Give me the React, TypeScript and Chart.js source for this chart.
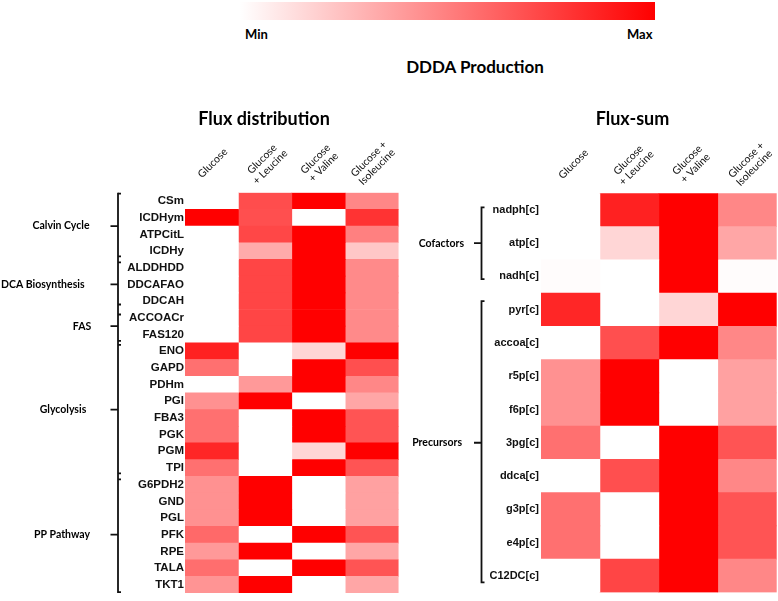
import React, { useEffect, useRef } from "react";
import { Chart, registerables } from "chart.js";
Chart.register(...registerables);

// ---------- data ----------
const conditionLabels: string[][] = [
  ["Glucose"],
  ["Glucose", "+ Leucine"],
  ["Glucose", "+ Valine"],
  ["Glucose +", "Isoleucine"],
];

const fluxReactions = [
  "CSm", "ICDHym", "ATPCitL", "ICDHy", "ALDDHDD", "DDCAFAO", "DDCAH", "ACCOACr", "FAS120",
  "ENO", "GAPD", "PDHm", "PGI", "FBA3", "PGK", "PGM", "TPI",
  "G6PDH2", "GND", "PGL", "PFK", "RPE", "TALA", "TKT1",
];
const fluxGlucose = [0, 1, 0, 0, 0, 0, 0, 0, 0, 0.87, 0.56, 0, 0.43, 0.56, 0.56, 0.85, 0.56, 0.43, 0.43, 0.43, 0.59, 0.4, 0.57, 0.42];
const fluxLeucine = [0.7, 0.69, 0.72, 0.33, 0.73, 0.73, 0.73, 0.73, 0.73, 0, 0, 0.4, 1, 0, 0, 0, 0, 1, 1, 1, 0, 1, 0, 1];
const fluxValine = [1, 0, 1, 1, 1, 1, 1, 1, 1, 0.16, 1, 1, 0, 1, 1, 0.16, 1, 0, 0, 0, 1, 0, 1, 0];
const fluxIsoleucine = [0.47, 0.8, 0.5, 0.22, 0.46, 0.46, 0.46, 0.46, 0.46, 1, 0.69, 0.47, 0.35, 0.67, 0.67, 1, 0.67, 0.37, 0.37, 0.37, 0.67, 0.35, 0.67, 0.35];

const fluxGroups = [
  { name: "Calvin Cycle", first: 0, last: 3 },
  { name: "DCA Biosynthesis", first: 4, last: 6 },
  { name: "FAS", first: 7, last: 8 },
  { name: "Glycolysis", first: 9, last: 16 },
  { name: "PP Pathway", first: 17, last: 23 },
];

const sumMetabolites = ["nadph[c]", "atp[c]", "nadh[c]", "pyr[c]", "accoa[c]", "r5p[c]", "f6p[c]", "3pg[c]", "ddca[c]", "g3p[c]", "e4p[c]", "C12DC[c]"];
const sumGlucose = [0, 0, 0.01, 0.85, 0, 0.43, 0.43, 0.56, 0, 0.56, 0.56, 0];
const sumLeucine = [0.87, 0.16, 0, 0, 0.69, 1, 1, 0, 0.69, 0, 0, 0.73];
const sumValine = [1, 1, 1, 0.16, 1, 0, 0, 1, 1, 1, 1, 1];
const sumIsoleucine = [0.47, 0.35, 0.01, 1, 0.47, 0.37, 0.37, 0.67, 0.47, 0.67, 0.67, 0.47];

const sumGroups = [
  { name: "Cofactors", first: 0, last: 2 },
  { name: "Precursors", first: 3, last: 11 },
];

// ---------- helpers ----------
const shade = (v: number) => {
  const g = Math.round(255 * (1 - v));
  return `rgb(255,${g},${g})`;
};

const CAL = "Lato, 'Open Sans', sans-serif";

type Decor = {
  title: string;
  titleX: number;
  titleY: number;
  headerY: number;
  headerDx: number;
  groups: { name: string; first: number; last: number }[];
  bracketX: number;
  continuous: boolean;
  insets: number[][];
  labelX: number[];
  labelAlign: CanvasTextAlign[];
};

function makeDecorPlugin(d: Decor) {
  return {
    id: "decor",
    afterDraw(chart: any) {
      const ctx: CanvasRenderingContext2D = chart.ctx;
      const xs = chart.scales.x;
      const ys = chart.scales.y;
      ctx.save();
      // title
      ctx.fillStyle = "#000";
      ctx.font = `bold 18px ${CAL}`;
      ctx.textAlign = "center";
      ctx.textBaseline = "middle";
      ctx.fillText(d.title, d.titleX, d.titleY);
      // headers
      ctx.font = `10.5px ${CAL}`;
      ctx.fillStyle = "#111";
      conditionLabels.forEach((lines, c) => {
        const cx = xs.getPixelForValue(c + 0.5) + d.headerDx;
        ctx.save();
        ctx.translate(cx, d.headerY);
        ctx.rotate(-Math.PI / 4);
        const lh = 11.5;
        lines.forEach((ln, i) => {
          ctx.fillText(ln, 0, (i - (lines.length - 1) / 2) * lh);
        });
        ctx.restore();
      });
      // brackets
      const half = (ys.getPixelForValue(1) - ys.getPixelForValue(0)) / 2;
      ctx.strokeStyle = "#111";
      ctx.lineWidth = 1.8;
      const bx = d.bracketX;
      if (d.continuous) {
        const top = ys.getPixelForValue(0) - half;
        const bot = ys.getPixelForValue(ys.getLabels().length - 1) + half;
        ctx.beginPath();
        ctx.moveTo(bx, top);
        ctx.lineTo(bx, bot);
        ctx.stroke();
      }
      d.groups.forEach((g, gi) => {
        const ins = d.insets[gi] || [0, 0];
        const top = ys.getPixelForValue(g.first) - half + ins[0];
        const bot = ys.getPixelForValue(g.last) + half - ins[1];
        const mid = (ys.getPixelForValue(g.first) + ys.getPixelForValue(g.last)) / 2;
        ctx.beginPath();
        if (!d.continuous) {
          ctx.moveTo(bx + 3, top);
          ctx.lineTo(bx, top);
          ctx.lineTo(bx, bot);
          ctx.lineTo(bx + 3, bot);
        } else {
          ctx.moveTo(bx, top + 1);
          ctx.lineTo(bx + 3, top + 1);
          ctx.moveTo(bx, bot - 1);
          ctx.lineTo(bx + 3, bot - 1);
        }
        ctx.moveTo(bx - 7.5, mid);
        ctx.lineTo(bx, mid);
        ctx.stroke();
        ctx.font = `bold 10.5px ${CAL}`;
        ctx.textAlign = d.labelAlign[gi];
        ctx.textBaseline = "middle";
        ctx.fillStyle = "#000";
        ctx.fillText(g.name, d.labelX[gi], mid);
      });
      ctx.restore();
    },
  };
}

function heatmapConfig(
  rows: string[],
  series: number[][],
  padding: { left: number; top: number; right: number; bottom: number },
  axisWidth: number,
  labelSize: number,
  labelPad: number,
  decor: Decor
): any {
  return {
    type: "bar",
    data: {
      labels: rows,
      datasets: series.map((vals, c) => ({
        label: conditionLabels[c].join(" "),
        data: rows.map(() => [c, c + 1]),
        backgroundColor: vals.map(shade),
        borderWidth: 0,
        barPercentage: 1,
        categoryPercentage: 1,
        grouped: false,
      })),
    },
    options: {
      indexAxis: "y",
      animation: false,
      responsive: false,
      events: [],
      layout: { padding },
      plugins: {
        legend: { display: false },
        tooltip: { enabled: false },
        title: { display: false },
      },
      scales: {
        x: { type: "linear", min: 0, max: 4, display: false },
        y: {
          type: "category",
          grid: { display: false, drawTicks: false },
          border: { display: false },
          ticks: {
            autoSkip: false,
            padding: labelPad,
            color: "#111",
            font: { family: "'Liberation Sans', Arial, sans-serif", weight: "bold", size: labelSize },
          },
          afterFit: (s: any) => {
            s.width = axisWidth;
          },
        },
      },
    },
    plugins: [makeDecorPlugin(decor)],
  };
}

export default function App() {
  const leftRef = useRef<HTMLCanvasElement>(null);
  const rightRef = useRef<HTMLCanvasElement>(null);

  useEffect(() => {
    const left = new Chart(
      leftRef.current!,
      heatmapConfig(
        fluxReactions,
        [fluxGlucose, fluxLeucine, fluxValine, fluxIsoleucine],
        { left: 0, top: 192.7, right: 379.4, bottom: 2.7 },
        185,
        11.5,
        1,
        {
          title: "Flux distribution",
          titleX: 264,
          titleY: 119,
          headerY: 163,
          headerDx: 1,
          groups: fluxGroups,
          bracketX: 118,
          continuous: true,
          insets: [[0, 2], [2, 4], [4, 1], [1, 2], [2, 0]],
          labelX: [61, 1, 82, 63, 62],
          labelAlign: ["center", "left", "center", "center", "center"],
        }
      )
    );
    const right = new Chart(
      rightRef.current!,
      heatmapConfig(
        sumMetabolites,
        [sumGlucose, sumLeucine, sumValine, sumIsoleucine],
        { left: 441, top: 193.3, right: 1.3, bottom: 3.3 },
        100,
        11,
        2,
        {
          title: "Flux-sum",
          titleX: 632.5,
          titleY: 119,
          headerY: 164,
          headerDx: 3,
          groups: sumGroups,
          bracketX: 481.5,
          continuous: false,
          insets: [[14, 14], [8, 10]],
          labelX: [464, 462],
          labelAlign: ["right", "right"],
        }
      )
    );
    return () => {
      left.destroy();
      right.destroy();
    };
  }, []);

  const textBase: React.CSSProperties = {
    position: "absolute",
    fontFamily: CAL,
    fontWeight: 700,
    color: "#000",
    whiteSpace: "nowrap",
    lineHeight: 1,
  };

  return (
    <div style={{ position: "absolute", left: 0, top: 0, width: 778, height: 601, background: "#fff", overflow: "hidden" }}>
      <div
        style={{
          position: "absolute",
          left: 240,
          top: 2,
          width: 415,
          height: 18,
          background: "linear-gradient(to right, #ffffff, #ff0000)",
        }}
      />
      <div style={{ ...textBase, left: 245, top: 28, fontSize: 13 }}>Min</div>
      <div style={{ ...textBase, left: 627, top: 28, fontSize: 13 }}>Max</div>
      <div style={{ ...textBase, left: 375, width: 200, textAlign: "center", top: 58, fontSize: 17 }}>DDDA Production</div>
      <canvas ref={leftRef} width={778} height={601} style={{ position: "absolute", left: 0, top: 0, width: 778, height: 601 }} />
      <canvas ref={rightRef} width={778} height={601} style={{ position: "absolute", left: 0, top: 0, width: 778, height: 601 }} />
    </div>
  );
}
